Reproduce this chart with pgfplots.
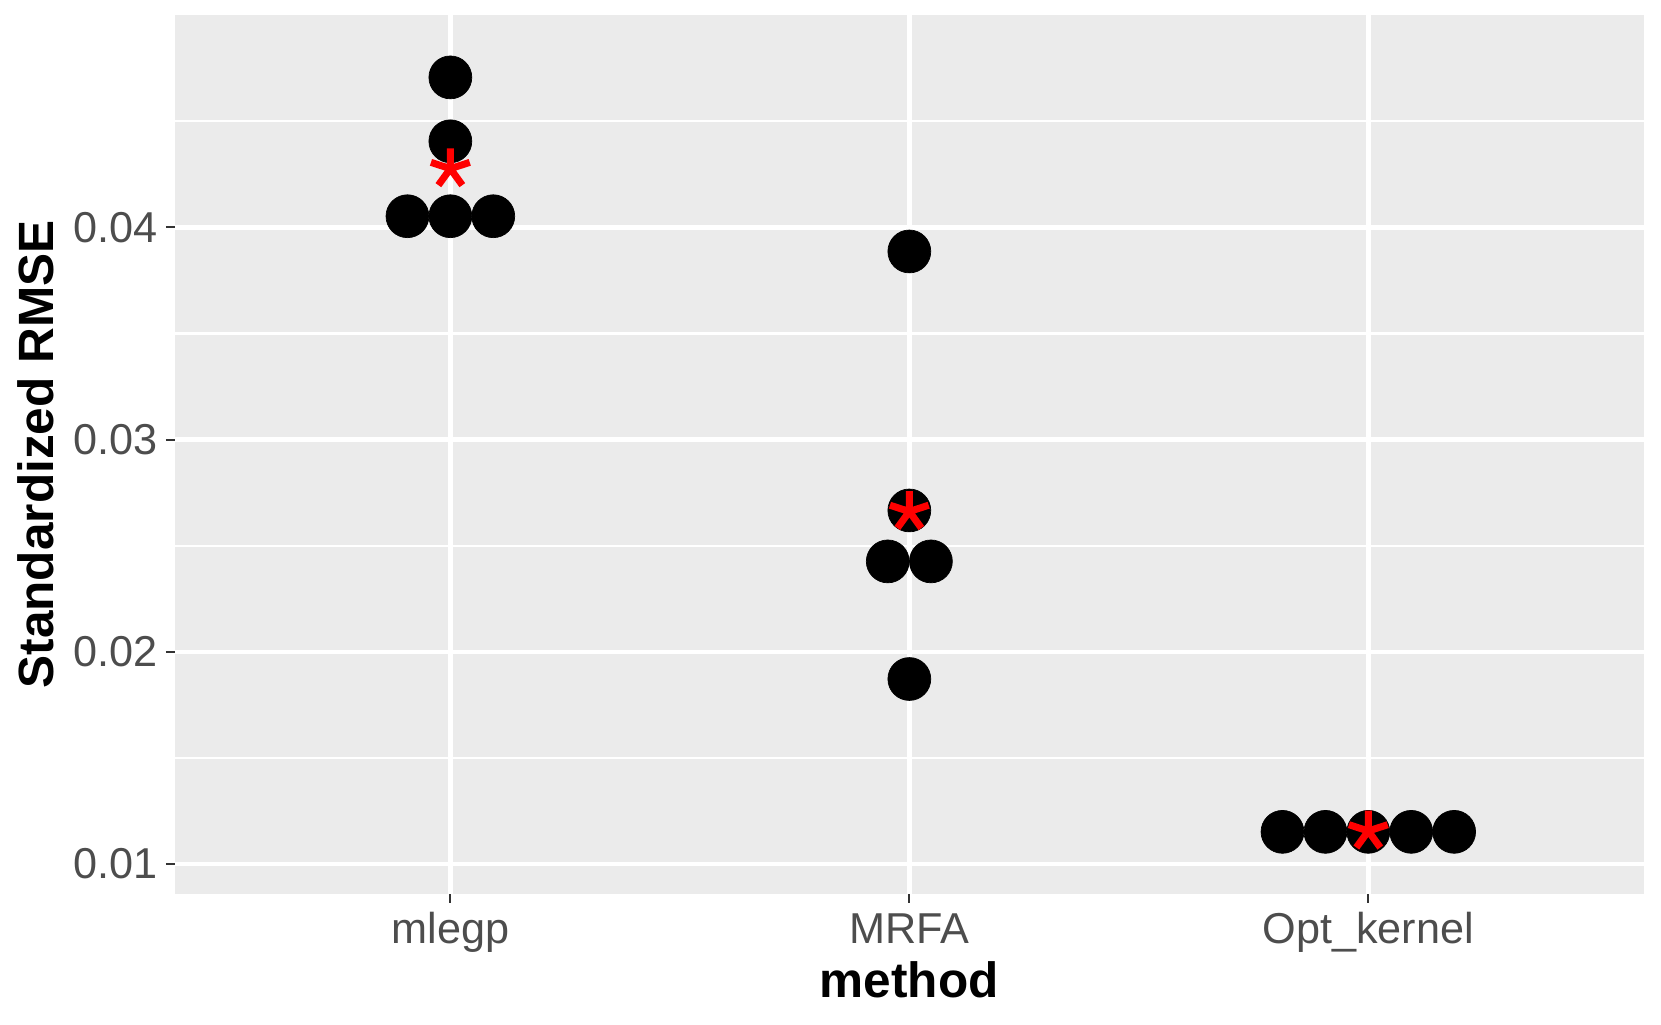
\documentclass[border=0pt]{standalone}
\usepackage{fontspec}
\setmainfont{Liberation Sans}
\usepackage{pgfplots}
\pgfplotsset{compat=1.18}
\definecolor{panel}{HTML}{EBEBEB}
\definecolor{ticktxt}{HTML}{4D4D4D}
\definecolor{tickcol}{HTML}{333333}

\begin{document}
\begin{tikzpicture}
\begin{axis}[
  scale only axis,
  width=146.9mm, height=87.9mm,
  xmin=0.4, xmax=3.6, ymin=0.0086, ymax=0.0500,
  axis lines*=left, axis line style={draw=none},
  axis background/.style={fill=panel},
  xtick={1,2,3}, xticklabels={mlegp,MRFA,Opt\_kernel},
  ytick={0.01,0.02,0.03,0.04},
  minor ytick={0.015,0.025,0.035,0.045},
  scaled y ticks=false,
  /pgf/number format/fixed, /pgf/number format/fixed zerofill,
  /pgf/number format/precision=2, /pgf/number format/assume math mode=true,
  xmajorgrids, ymajorgrids, yminorgrids,
  major grid style={white, line width=0.45mm},
  minor grid style={white, line width=0.22mm},
  tick align=outside, major tick length=0.9mm, minor tick length=0pt,
  tick style={tickcol, line width=0.2mm},
  tick label style={font=\fontsize{12.3}{14}\selectfont, text=ticktxt},
  xticklabel style={anchor=base, yshift=-4.1mm},
  yticklabel style={anchor=east, inner sep=0pt, xshift=-0.8mm},
  clip=false,
]
% individual runs (dotplot, stacked around each method)
\addplot[only marks, mark=*, mark size=6.1pt, mark options={fill=black, draw=black, line width=0.2pt}]
  coordinates {
    (1,0.04706) (1,0.04405) (0.9065,0.04052) (1,0.04052) (1.0935,0.04052)
    (2,0.03886) (2,0.02666) (1.953,0.02426) (2.047,0.02426) (2,0.01872)
    (2.813,0.01152) (2.9065,0.01152) (3,0.01152) (3.0935,0.01152) (3.187,0.01152)
  };
% mean per method
\addplot[only marks, mark=star, mark size=5.8pt, mark options={draw=red, line width=2pt}]
  coordinates {(1,0.04276) (2,0.02661) (3,0.01156)};
\coordinate (SW) at (rel axis cs:0,0);
\coordinate (NE) at (rel axis cs:1,1);
\coordinate (L) at (rel axis cs:0,0.5);
\coordinate (B) at (rel axis cs:0.5,0);
\end{axis}
\node[rotate=90, anchor=base, font=\fontsize{14.1}{16}\selectfont\bfseries] at ([xshift=-12.1mm]L) {Standardized RMSE};
\node[anchor=base, font=\fontsize{14.1}{16}\selectfont\bfseries] at ([yshift=-10.4mm]B) {method};
\pgfresetboundingbox
\path ([shift={(-17.5mm,-13.1mm)}]SW) rectangle ([shift={(1.73mm,1.5mm)}]NE);
\end{tikzpicture}
\end{document}
